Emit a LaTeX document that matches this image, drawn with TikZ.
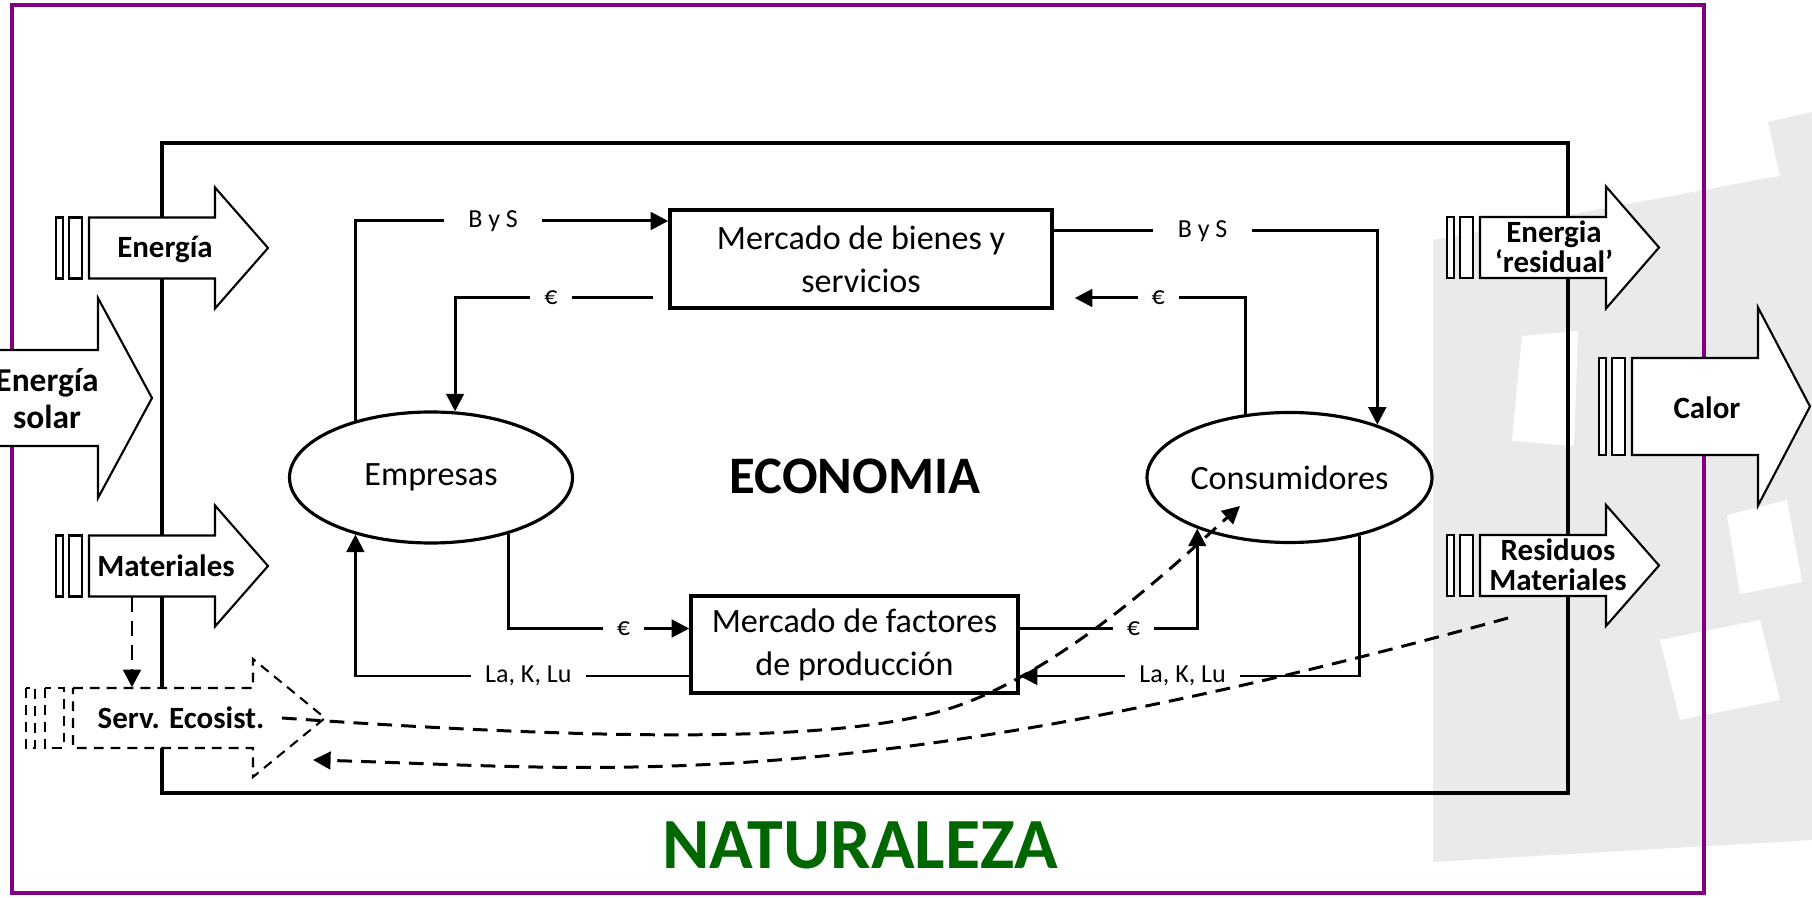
\documentclass[tikz,border=0pt]{standalone}
\usepackage{fontspec}
\setmainfont{Carlito}
\usetikzlibrary{shapes.geometric, arrows.meta, positioning}
\definecolor{marco}{RGB}{128,0,128}
\definecolor{verde}{RGB}{0,102,0}
\definecolor{marca}{RGB}{234,234,234}

\tikzset{
  mercado/.style={draw, rectangle, line width=1pt, align=center, inner sep=0pt, font=\fontsize{9.7}{12.2}\selectfont},
  agente/.style={draw, ellipse, line width=0.9pt, inner sep=0pt, font=\fontsize{9.7}{12}\selectfont},
  flujo/.style={line width=0.85pt, -{Triangle[length=5pt,width=5pt]}},
  etiq/.style={fill=white, inner ysep=1pt, inner xsep=4pt, font=\fontsize{7.4}{9}\selectfont},
  bloque/.style={draw, fill=white, line width=0.6pt},
  rotulo/.style={inner sep=0pt, align=center, font=\bfseries\fontsize{8.8}{8.6}\selectfont},
  eco/.style={line width=0.85pt, dash pattern=on 4.2pt off 2.6pt, -{Triangle[length=5pt,width=5pt]}}
}

% flecha de bloque con dos franjas: [estilo]{x franjas}{ancho franja}{x punta ini}{x punta}{y}{medio cuerpo}{media punta}
\newcommand{\flechabloque}[8][]{%
  \draw[bloque,#1] (#2,{#6-#7}) rectangle ({#2+#3},{#6+#7});
  \draw[bloque,#1] ({#2+2*#3},{#6-#7}) rectangle ({#2+4*#3},{#6+#7});
  \draw[bloque,#1] ({#2+5*#3},{#6-#7}) -- (#4,{#6-#7}) -- (#4,{#6-#8}) -- (#5,#6)
    -- (#4,{#6+#8}) -- (#4,{#6+#7}) -- ({#2+5*#3},{#6+#7}) -- cycle;
}

\begin{document}
\begin{tikzpicture}[x=0.1mm, y=-0.1mm]
    \useasboundingbox (0,0) rectangle (1812,898);

    % marca de agua
    \fill[marca] (1433,240) -- (1812,170) -- (1812,840) -- (1433,862) -- cycle;
    \fill[white] (1522,336) -- (1578,331) -- (1574,446) -- (1512,441) -- cycle;
    \fill[white] (1727,515) -- (1787,500) -- (1802,582) -- (1740,594) -- cycle;
    \fill[white] (1660,640) -- (1760,620) -- (1780,700) -- (1680,720) -- cycle;
    \fill[marca] (1768,122) -- (1812,112) -- (1812,196) -- (1785,200) -- cycle;

    % naturaleza y economia
    \draw[marco, line width=1pt] (12,5) rectangle (1704,893);
    \draw[line width=1.3pt] (162,143) rectangle (1568,793);

    \node [mercado, minimum width=3.82cm, minimum height=0.98cm] (bienes) at (861,259) {Mercado de bienes y\\servicios};
    \node [mercado, minimum width=3.27cm, minimum height=0.97cm] (factores) at (854.5,644.5) {Mercado de factores\\de producción};
    \node [agente, minimum width=2.83cm, minimum height=1.31cm] (empresas) at (431,477.5) {Empresas};
    \node [agente, right of=empresas, node distance=8.585cm, minimum width=2.85cm, minimum height=1.3cm] (consumidores) {Consumidores};
    \node [font=\bfseries\fontsize{15}{18}\selectfont] (economia) at (855,476) {ECONOMIA};
    \node [text=verde, font=\bfseries\fontsize{20.5}{24}\selectfont] (naturaleza) at (860,845) {NATURALEZA};

    \draw [flujo] (empresas.143) |- node [etiq, pos=0.72, inner xsep=7pt] {B y S} ([yshift=0.38cm]bienes.west);
    \draw [flujo, shorten <=0.15cm] ([yshift=-0.39cm]bienes.west) -| node [etiq, pos=0.275] {€} (empresas.70);
    \draw [flujo] ([yshift=0.28cm]bienes.east) -| node [etiq, pos=0.23, inner xsep=7pt] {B y S} (consumidores.31);
    \draw [flujo, shorten >=0.21cm] (consumidores.125) |- node [etiq, pos=0.727] {€} ([yshift=-0.39cm]bienes.east);
    \draw [flujo] (empresas.-36) |- node [etiq, pos=0.818] {€} ([yshift=0.16cm]factores.west);
    \draw [flujo] ([yshift=-0.315cm]factores.west) -| node [etiq, pos=0.241] {La, K, Lu} (empresas.217);
    \draw [flujo] ([yshift=0.16cm]factores.east) -| node [etiq, pos=0.32] {€} (consumidores.209);
    \draw [flujo] (consumidores.-40) |- node [etiq, pos=0.76] {La, K, Lu} ([yshift=-0.315cm]factores.east);

    % entradas y salidas
    \flechabloque{56}{6.6}{215}{268}{248}{30.5}{60.5}
    \flechabloque{-61}{6.6}{98}{152}{398}{48}{100}
    \flechabloque{56}{6.6}{215}{268}{566}{30.5}{60.5}
    \flechabloque[dash pattern=on 2.8pt off 2pt]{26}{9.4}{253}{325}{718}{30}{59}
    \flechabloque{1447}{6.6}{1606}{1659}{247.5}{30.5}{61}
    \flechabloque{1599}{6.6}{1758}{1810}{406.5}{48.5}{99}
    \flechabloque{1447}{6.6}{1606}{1659}{565.5}{30.5}{60.5}

    \node [rotulo] (energia) at (165,249) {Energía};
    \node [rotulo, font=\bfseries\fontsize{9.5}{10.5}\selectfont] (solar) at (47,399) {Energía\\solar};
    \node [rotulo, minimum height=0.61cm] (materiales) at (166,566) {Materiales};
    \node [rotulo, minimum height=0.6cm] (serv) at (181,718) {Serv. Ecosist.};
    \node [rotulo] (residual) at (1554,247) {Energia\\‘residual’};
    \node [rotulo] (calor) at (1707,408) {Calor};
    \node [rotulo] (residuos) at (1558,565) {Residuos\\Materiales};

    % servicios de los ecosistemas
    \coordinate (ecoC) at (1240,506);
    \coordinate (ecoR) at (1508,618);
    \coordinate (ecoS) at (313,760);
    \draw [eco] ([xshift=-0.34cm]materiales.south) -- ([xshift=-0.34cm]materiales.south |- serv.north);
    \draw [eco] ([xshift=0.17cm]serv.east) .. controls (600,740) and (850,745) .. (960,705)
        .. controls (1070,665) and (1180,560) .. (ecoC);
    \draw [eco] (ecoR) .. controls (850,800) and (600,768) .. (ecoS);
\end{tikzpicture}
\end{document}
